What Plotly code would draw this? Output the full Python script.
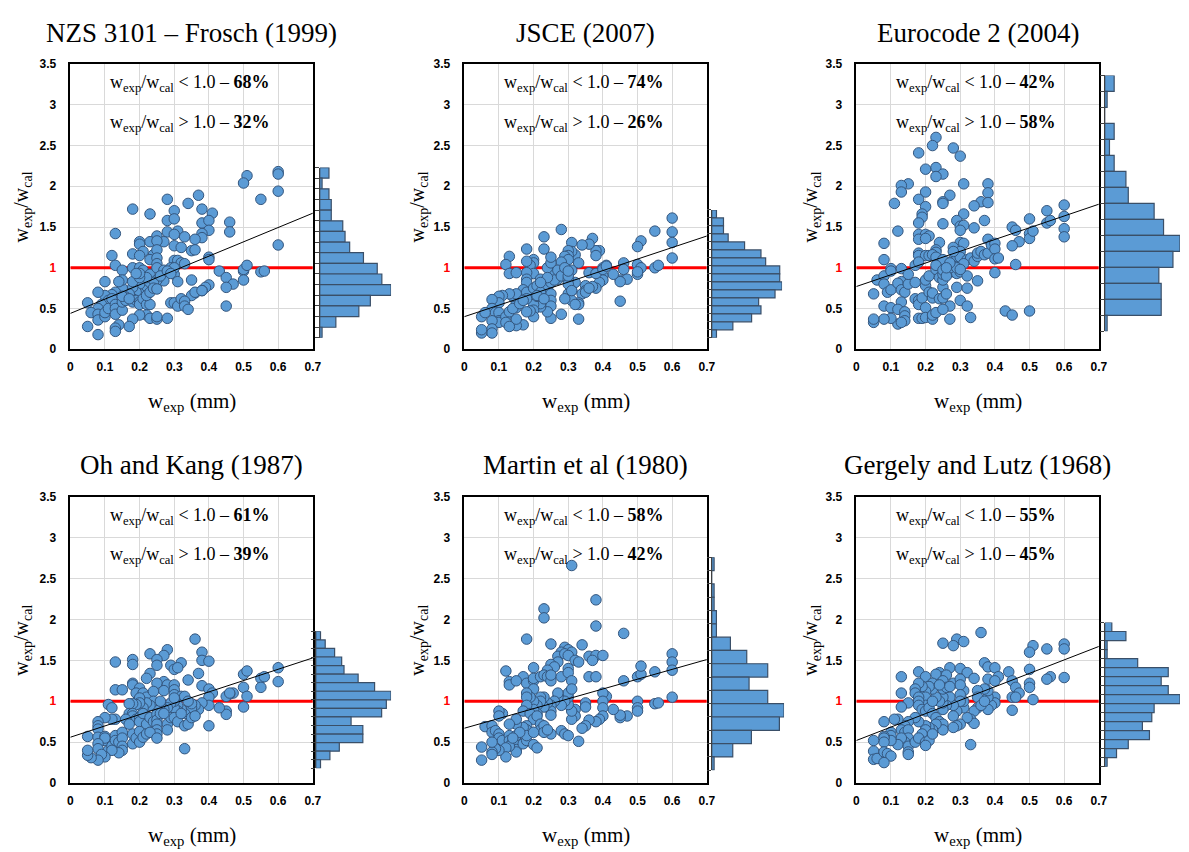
import plotly.graph_objects as go

# ---------------- DATA ----------------
titles = ["NZS 3101 – Frosch (1999)", "JSCE (2007)", "Eurocode 2 (2004)",
          "Oh and Kang (1987)", "Martin et al (1980)", "Gergely and Lutz (1968)"]
pct_below = [68, 74, 42, 61, 58, 55]
pct_above = [32, 26, 58, 39, 42, 45]
ref_level = 1.0
x_ticks = [0, 0.1, 0.2, 0.3, 0.4, 0.5, 0.6, 0.7]
y_ticks = [0, 0.5, 1, 1.5, 2, 2.5, 3, 3.5]
trend_x = [0.0, 0.7]
trend_y0 = [0.44, 0.40, 0.77, 0.56, 0.67, 0.52]
trend_y1 = [1.67, 1.39, 1.78, 1.53, 1.51, 1.67]

nzs_points = [(0.6,2.18),(0.6,2.15),(0.51,2.13),(0.50,2.04),(0.6,1.94),(0.55,1.84),(0.28,1.84),(0.37,1.89),(0.34,1.79),(0.18,1.72),(0.3,1.7),(0.38,1.72),(0.23,1.66),(0.41,1.67),(0.28,1.58),(0.3,1.6),(0.38,1.55),(0.40,1.58),(0.46,1.56),(0.4,1.46),(0.46,1.44),(0.13,1.42),(0.28,1.44),(0.31,1.45),(0.30,1.41),(0.33,1.38),(0.38,1.42),(0.38,1.37),(0.25,1.39),(0.36,1.35),(0.2,1.32),(0.23,1.32),(0.27,1.32),(0.2,1.29),(0.25,1.33),(0.3,1.27),(0.32,1.25),(0.6,1.28),(0.35,1.21),(0.36,1.22),(0.21,1.2),(0.18,1.17),(0.12,1.15),(0.24,1.16),(0.2,1.15),(0.25,1.22),(0.23,1.1),(0.25,1.12),(0.4,1.13),(0.4,1.1),(0.3,1.09),(0.31,1.09),(0.32,1.06),(0.33,1.05),(0.13,1.03),(0.25,1.05),(0.18,1.0),(0.15,0.97),(0.2,1.0),(0.21,0.97),(0.23,0.92),(0.25,1.0),(0.27,0.97),(0.29,1.0),(0.3,0.92),(0.3,1.0),(0.43,0.96),(0.5,0.96),(0.5,0.98),(0.51,1.03),(0.55,0.95),(0.56,0.96),(0.45,0.88),(0.5,0.85),(0.47,0.8),(0.45,0.76),(0.4,0.79),(0.39,0.76),(0.38,0.72),(0.36,0.69),(0.35,0.66),(0.35,0.85),(0.31,0.83),(0.27,0.84),(0.25,0.85),(0.24,0.82),(0.22,0.76),(0.21,0.73),(0.2,0.8),(0.2,0.68),(0.19,0.7),(0.18,0.76),(0.18,0.83),(0.18,0.62),(0.17,0.68),(0.16,0.64),(0.15,0.75),(0.15,0.85),(0.14,0.83),(0.13,0.7),(0.12,0.67),(0.1,0.83),(0.1,0.66),(0.08,0.7),(0.11,0.6),(0.12,0.62),(0.09,0.55),(0.08,0.5),(0.05,0.57),(0.06,0.45),(0.08,0.43),(0.08,0.36),(0.1,0.4),(0.1,0.45),(0.11,0.5),(0.13,0.55),(0.13,0.5),(0.13,0.43),(0.15,0.48),(0.15,0.58),(0.16,0.6),(0.18,0.58),(0.19,0.6),(0.2,0.58),(0.2,0.55),(0.21,0.62),(0.22,0.55),(0.23,0.55),(0.22,0.42),(0.2,0.42),(0.18,0.37),(0.17,0.28),(0.14,0.3),(0.13,0.26),(0.13,0.22),(0.05,0.28),(0.08,0.18),(0.23,0.38),(0.25,0.37),(0.25,0.4),(0.28,0.38),(0.29,0.57),(0.3,0.57),(0.31,0.53),(0.32,0.62),(0.33,0.59),(0.33,0.53),(0.34,0.49),(0.36,0.7),(0.38,0.72),(0.45,0.53),(0.22,0.66),(0.23,0.7),(0.24,0.75),(0.25,0.74),(0.26,0.9),(0.28,0.96),(0.29,0.93),(0.22,0.88),(0.2,0.88),(0.2,0.93),(0.19,0.93),(0.15,0.65),(0.17,0.62)]

jsce_points = [(0.6,1.61),(0.6,1.44),(0.6,1.31),(0.6,1.12),(0.55,1.45),(0.51,1.33),(0.5,1.26),(0.5,1.04),(0.51,1.0),(0.5,0.92),(0.5,0.95),(0.55,1.0),(0.56,1.03),(0.46,1.06),(0.46,0.98),(0.45,0.85),(0.47,0.86),(0.45,0.83),(0.45,0.59),(0.43,0.92),(0.41,1.03),(0.4,1.0),(0.4,0.9),(0.4,0.85),(0.39,0.82),(0.39,1.21),(0.38,1.21),(0.38,1.15),(0.37,1.36),(0.36,1.29),(0.34,1.28),(0.31,1.31),(0.32,1.16),(0.31,1.2),(0.3,1.21),(0.3,1.15),(0.28,1.47),(0.29,1.14),(0.3,1.1),(0.28,1.07),(0.33,1.06),(0.36,0.94),(0.38,0.75),(0.37,0.77),(0.35,0.78),(0.35,0.72),(0.34,0.68),(0.33,0.57),(0.33,0.55),(0.32,0.82),(0.31,0.97),(0.31,0.72),(0.3,0.68),(0.31,0.6),(0.29,0.62),(0.28,0.95),(0.27,0.86),(0.29,0.92),(0.25,0.94),(0.24,1.0),(0.25,1.06),(0.25,1.13),(0.23,1.38),(0.23,1.23),(0.2,1.1),(0.2,1.06),(0.19,1.03),(0.18,1.23),(0.18,1.08),(0.2,0.93),(0.18,0.94),(0.13,1.14),(0.12,1.04),(0.13,0.93),(0.15,0.94),(0.18,0.86),(0.18,0.82),(0.17,0.73),(0.18,0.7),(0.2,0.75),(0.21,0.78),(0.22,0.86),(0.23,0.8),(0.23,0.72),(0.24,0.75),(0.25,0.82),(0.25,0.68),(0.25,0.6),(0.25,0.53),(0.25,0.38),(0.28,0.43),(0.33,0.37),(0.24,0.46),(0.22,0.52),(0.22,0.56),(0.2,0.6),(0.2,0.55),(0.2,0.48),(0.2,0.4),(0.19,0.47),(0.18,0.46),(0.18,0.62),(0.17,0.3),(0.15,0.29),(0.15,0.37),(0.15,0.51),(0.15,0.57),(0.14,0.65),(0.15,0.68),(0.13,0.68),(0.11,0.66),(0.1,0.65),(0.1,0.57),(0.08,0.61),(0.08,0.5),(0.09,0.45),(0.1,0.45),(0.1,0.35),(0.1,0.33),(0.08,0.35),(0.08,0.25),(0.08,0.2),(0.05,0.2),(0.05,0.24),(0.05,0.4),(0.06,0.45),(0.12,0.4),(0.12,0.33),(0.13,0.28),(0.13,0.46),(0.14,0.5),(0.16,0.56),(0.17,0.6),(0.21,0.65),(0.22,0.7),(0.26,0.85),(0.27,0.97),(0.28,0.9),(0.3,0.86),(0.3,0.8),(0.31,0.72),(0.3,0.9),(0.32,0.55),(0.35,0.7),(0.36,0.75),(0.38,0.93),(0.4,0.98),(0.41,1.02),(0.29,1.0),(0.3,0.96),(0.24,0.88),(0.22,0.82),(0.21,0.66),(0.23,0.62)]

ec2_points = [(0.23,2.6),(0.22,2.5),(0.28,2.47),(0.18,2.41),(0.3,2.37),(0.23,2.23),(0.2,2.21),(0.25,2.15),(0.23,2.12),(0.31,2.03),(0.38,2.03),(0.15,2.03),(0.13,2.01),(0.13,1.93),(0.2,1.93),(0.38,1.92),(0.27,1.89),(0.18,1.84),(0.25,1.81),(0.25,1.79),(0.11,1.79),(0.36,1.81),(0.38,1.8),(0.34,1.76),(0.2,1.75),(0.19,1.66),(0.19,1.62),(0.31,1.66),(0.18,1.55),(0.29,1.58),(0.37,1.58),(0.25,1.54),(0.3,1.51),(0.31,1.52),(0.3,1.46),(0.34,1.49),(0.12,1.45),(0.18,1.41),(0.2,1.41),(0.21,1.39),(0.18,1.35),(0.2,1.36),(0.24,1.31),(0.3,1.31),(0.31,1.3),(0.28,1.25),(0.23,1.22),(0.23,1.19),(0.18,1.18),(0.18,1.15),(0.2,1.15),(0.21,1.15),(0.22,1.16),(0.23,1.13),(0.25,1.1),(0.28,1.1),(0.29,1.14),(0.3,1.2),(0.3,1.13),(0.32,1.1),(0.33,1.12),(0.34,1.08),(0.35,1.14),(0.35,1.18),(0.36,1.2),(0.37,1.16),(0.38,1.18),(0.38,1.35),(0.39,1.28),(0.4,1.3),(0.4,1.23),(0.4,1.11),(0.41,1.12),(0.4,0.94),(0.45,1.5),(0.46,1.46),(0.47,1.32),(0.45,1.27),(0.46,1.04),(0.5,1.6),(0.5,1.42),(0.5,1.36),(0.51,1.45),(0.55,1.7),(0.55,1.55),(0.56,1.58),(0.6,1.77),(0.6,1.63),(0.6,1.48),(0.6,1.38),(0.08,1.3),(0.08,1.1),(0.05,0.68),(0.06,0.85),(0.08,0.9),(0.08,0.8),(0.1,0.99),(0.1,0.96),(0.09,0.7),(0.1,0.73),(0.13,0.99),(0.13,0.83),(0.12,0.81),(0.13,0.73),(0.14,0.7),(0.15,0.8),(0.15,0.92),(0.13,0.58),(0.17,1.03),(0.18,1.07),(0.17,0.82),(0.17,0.62),(0.18,0.6),(0.18,0.55),(0.19,0.63),(0.2,0.78),(0.2,0.85),(0.21,0.9),(0.21,0.7),(0.22,0.63),(0.22,0.69),(0.23,0.98),(0.23,1.03),(0.24,0.88),(0.24,0.62),(0.25,0.63),(0.25,0.76),(0.25,0.85),(0.25,0.92),(0.25,0.97),(0.26,0.68),(0.27,0.53),(0.28,0.95),(0.29,0.93),(0.29,0.76),(0.3,0.6),(0.3,0.95),(0.31,1.05),(0.32,0.9),(0.32,0.75),(0.32,0.53),(0.33,0.39),(0.35,0.84),(0.08,0.53),(0.1,0.51),(0.12,0.49),(0.14,0.46),(0.14,0.41),(0.14,0.35),(0.12,0.31),(0.13,0.33),(0.1,0.38),(0.08,0.37),(0.05,0.33),(0.05,0.37),(0.18,0.38),(0.19,0.38),(0.2,0.51),(0.2,0.39),(0.22,0.37),(0.22,0.42),(0.23,0.45),(0.25,0.49),(0.27,0.37),(0.43,0.47),(0.45,0.42),(0.5,0.47),(0.27,1.0),(0.26,0.9),(0.29,1.0),(0.3,0.98),(0.27,1.06),(0.28,1.2),(0.26,1.0)]

ohkang_points = [(0.36,1.76),(0.28,1.63),(0.23,1.58),(0.38,1.6),(0.27,1.56),(0.25,1.51),(0.18,1.51),(0.13,1.48),(0.18,1.45),(0.25,1.44),(0.29,1.44),(0.3,1.39),(0.32,1.47),(0.38,1.5),(0.4,1.49),(0.31,1.41),(0.23,1.34),(0.22,1.28),(0.37,1.34),(0.34,1.26),(0.27,1.24),(0.25,1.22),(0.28,1.2),(0.3,1.2),(0.18,1.22),(0.18,1.2),(0.2,1.16),(0.19,1.1),(0.13,1.14),(0.15,1.14),(0.21,1.1),(0.22,1.05),(0.24,1.12),(0.27,1.13),(0.3,1.14),(0.3,1.08),(0.32,1.06),(0.33,1.06),(0.38,1.19),(0.4,1.15),(0.41,1.1),(0.4,1.05),(0.5,1.33),(0.51,1.37),(0.55,1.28),(0.56,1.3),(0.6,1.41),(0.6,1.24),(0.55,1.17),(0.5,1.17),(0.51,1.06),(0.5,0.93),(0.47,1.1),(0.46,1.09),(0.45,1.06),(0.46,1.1),(0.45,0.88),(0.45,0.84),(0.43,0.92),(0.4,0.95),(0.4,0.7),(0.38,0.98),(0.37,0.9),(0.36,0.95),(0.35,0.92),(0.35,0.97),(0.34,1.0),(0.33,0.85),(0.32,0.9),(0.31,0.95),(0.31,0.88),(0.3,0.92),(0.3,1.0),(0.29,0.98),(0.28,0.92),(0.27,0.9),(0.26,0.96),(0.25,0.98),(0.25,0.92),(0.24,1.0),(0.23,0.95),(0.22,0.98),(0.21,0.92),(0.2,1.04),(0.2,0.98),(0.19,0.96),(0.18,0.97),(0.17,0.97),(0.11,0.96),(0.12,0.92),(0.17,0.85),(0.18,0.85),(0.18,0.82),(0.19,0.78),(0.2,0.8),(0.2,0.75),(0.21,0.85),(0.22,0.72),(0.23,0.8),(0.24,0.75),(0.25,0.84),(0.25,0.77),(0.25,0.72),(0.25,0.65),(0.25,0.6),(0.26,0.85),(0.28,0.72),(0.28,0.65),(0.29,0.8),(0.3,0.8),(0.31,0.75),(0.32,0.85),(0.33,0.7),(0.34,0.72),(0.35,0.8),(0.36,0.82),(0.33,0.42),(0.13,0.78),(0.12,0.78),(0.1,0.8),(0.08,0.75),(0.08,0.7),(0.08,0.66),(0.05,0.57),(0.08,0.56),(0.1,0.57),(0.1,0.52),(0.1,0.55),(0.08,0.48),(0.08,0.42),(0.11,0.4),(0.12,0.45),(0.13,0.58),(0.13,0.52),(0.14,0.5),(0.15,0.62),(0.15,0.55),(0.15,0.45),(0.15,0.4),(0.14,0.37),(0.12,0.4),(0.1,0.32),(0.09,0.35),(0.08,0.28),(0.06,0.31),(0.05,0.34),(0.05,0.4),(0.18,0.6),(0.18,0.48),(0.19,0.55),(0.2,0.5),(0.2,0.63),(0.21,0.56),(0.22,0.6),(0.23,0.62),(0.25,0.55),(0.16,0.78),(0.17,0.72),(0.26,1.0),(0.27,0.85),(0.3,1.04)]

martin_points = [(0.31,2.66),(0.38,2.24),(0.23,2.13),(0.23,2.02),(0.38,1.92),(0.46,1.83),(0.18,1.76),(0.25,1.7),(0.34,1.69),(0.29,1.66),(0.3,1.63),(0.31,1.6),(0.28,1.6),(0.27,1.55),(0.29,1.58),(0.3,1.56),(0.36,1.55),(0.38,1.56),(0.4,1.56),(0.37,1.5),(0.32,1.5),(0.33,1.48),(0.27,1.48),(0.25,1.45),(0.26,1.42),(0.3,1.4),(0.24,1.38),(0.2,1.41),(0.12,1.37),(0.17,1.3),(0.13,1.24),(0.13,1.2),(0.15,1.25),(0.18,1.22),(0.2,1.25),(0.2,1.28),(0.22,1.3),(0.23,1.32),(0.24,1.3),(0.25,1.25),(0.25,1.32),(0.28,1.3),(0.3,1.35),(0.31,1.25),(0.36,1.3),(0.38,1.3),(0.46,1.25),(0.5,1.3),(0.51,1.33),(0.51,1.43),(0.55,1.36),(0.6,1.58),(0.6,1.48),(0.6,1.38),(0.6,1.05),(0.55,0.97),(0.56,0.98),(0.5,1.0),(0.5,0.92),(0.5,0.88),(0.47,0.82),(0.45,0.8),(0.45,0.83),(0.43,0.9),(0.41,1.06),(0.4,1.1),(0.4,1.0),(0.4,0.92),(0.4,0.82),(0.39,0.78),(0.38,0.75),(0.36,0.77),(0.35,0.98),(0.35,0.93),(0.35,0.7),(0.34,0.67),(0.33,0.51),(0.32,0.9),(0.32,0.82),(0.31,0.78),(0.31,0.88),(0.3,0.96),(0.3,1.05),(0.3,1.1),(0.31,1.15),(0.29,1.0),(0.28,0.95),(0.27,1.05),(0.27,1.1),(0.26,1.0),(0.25,0.95),(0.25,0.88),(0.25,0.83),(0.25,0.6),(0.24,0.98),(0.23,1.05),(0.23,0.93),(0.22,1.05),(0.22,1.0),(0.21,0.95),(0.21,0.85),(0.2,1.0),(0.2,0.9),(0.2,1.15),(0.19,1.05),(0.18,1.1),(0.18,1.05),(0.18,0.95),(0.17,0.88),(0.19,0.85),(0.2,0.78),(0.21,0.82),(0.22,0.72),(0.22,0.65),(0.23,0.7),(0.23,0.62),(0.24,0.65),(0.28,0.64),(0.29,0.6),(0.3,0.58),(0.18,0.7),(0.18,0.65),(0.17,0.68),(0.15,0.72),(0.15,0.78),(0.13,0.72),(0.11,0.85),(0.1,0.88),(0.1,0.82),(0.06,0.69),(0.08,0.7),(0.08,0.62),(0.09,0.64),(0.1,0.6),(0.1,0.55),(0.11,0.52),(0.13,0.58),(0.13,0.52),(0.14,0.5),(0.15,0.46),(0.15,0.41),(0.15,0.38),(0.13,0.45),(0.12,0.43),(0.12,0.32),(0.1,0.4),(0.09,0.42),(0.08,0.38),(0.08,0.35),(0.08,0.5),(0.05,0.44),(0.05,0.28),(0.15,0.58),(0.17,0.48),(0.18,0.52),(0.18,0.58),(0.2,0.47),(0.21,0.43),(0.2,0.62),(0.16,0.62),(0.14,0.55)]

gergely_points = [(0.36,1.84),(0.29,1.76),(0.31,1.73),(0.25,1.71),(0.28,1.68),(0.51,1.68),(0.6,1.7),(0.6,1.64),(0.55,1.64),(0.5,1.6),(0.37,1.47),(0.38,1.42),(0.4,1.41),(0.27,1.41),(0.3,1.4),(0.5,1.39),(0.44,1.36),(0.32,1.35),(0.24,1.35),(0.18,1.36),(0.25,1.3),(0.23,1.33),(0.2,1.3),(0.13,1.3),(0.26,1.32),(0.28,1.22),(0.3,1.27),(0.34,1.28),(0.38,1.27),(0.41,1.3),(0.4,1.25),(0.45,1.25),(0.56,1.3),(0.55,1.27),(0.6,1.29),(0.5,1.22),(0.5,1.17),(0.46,1.17),(0.47,1.1),(0.45,1.05),(0.46,1.05),(0.51,1.02),(0.45,0.89),(0.4,1.05),(0.4,0.98),(0.39,0.95),(0.38,0.9),(0.38,1.05),(0.38,1.13),(0.37,1.15),(0.35,1.13),(0.35,1.05),(0.35,0.92),(0.34,0.88),(0.33,0.78),(0.34,0.73),(0.32,0.8),(0.31,0.92),(0.31,1.0),(0.31,1.13),(0.3,1.2),(0.3,1.08),(0.3,1.0),(0.29,0.88),(0.28,0.95),(0.28,0.82),(0.3,0.72),(0.29,0.7),(0.28,0.68),(0.27,1.05),(0.26,0.95),(0.25,0.9),(0.25,0.98),(0.25,1.05),(0.25,1.15),(0.25,1.25),(0.24,1.0),(0.23,1.05),(0.22,1.15),(0.22,1.22),(0.21,1.18),(0.2,1.12),(0.2,1.05),(0.2,0.95),(0.19,1.18),(0.18,1.22),(0.17,1.15),(0.17,1.1),(0.18,1.05),(0.18,1.0),(0.18,0.95),(0.19,0.9),(0.2,0.88),(0.21,0.92),(0.22,0.85),(0.23,0.8),(0.24,0.75),(0.25,0.72),(0.25,0.65),(0.23,0.72),(0.22,0.65),(0.21,0.68),(0.2,0.7),(0.2,0.65),(0.19,0.6),(0.18,0.75),(0.17,0.8),(0.15,0.98),(0.13,0.93),(0.13,1.1),(0.15,0.75),(0.14,0.7),(0.12,0.78),(0.11,0.78),(0.08,0.75),(0.13,0.65),(0.14,0.62),(0.15,0.65),(0.15,0.55),(0.14,0.5),(0.13,0.55),(0.12,0.47),(0.15,0.45),(0.15,0.38),(0.15,0.35),(0.1,0.62),(0.1,0.58),(0.1,0.52),(0.08,0.57),(0.08,0.55),(0.08,0.5),(0.05,0.52),(0.05,0.39),(0.05,0.29),(0.06,0.3),(0.08,0.38),(0.09,0.36),(0.1,0.33),(0.08,0.25),(0.17,0.5),(0.18,0.55),(0.2,0.5),(0.21,0.52),(0.2,0.46),(0.22,0.6),(0.33,0.47),(0.36,0.95),(0.37,1.0),(0.26,1.17),(0.24,1.2),(0.27,1.18),(0.22,1.0)]

# histogram bins (bottom edge, top edge, counts listed from top bin to bottom bin)
hist_lo = [0.14, 0.14, 0.22, 0.18, 0.157, 0.20]
hist_hi = [2.23, 1.71, 3.36, 1.855, 2.76, 1.963]
nzs_hist = [4, 1, 4, 5, 5, 10, 11, 13, 19, 25, 27, 31, 22, 17, 7, 1]
jsce_hist = [2, 5, 5, 7, 14, 21, 23, 29, 29, 30, 27, 20, 21, 17, 9, 2]
ec2_hist = [4, 1, 0, 4, 2, 4, 9, 10, 21, 25, 32, 29, 23, 24, 24, 1]
ohkang_hist = [2, 4, 8, 11, 12, 18, 25, 32, 30, 28, 15, 20, 20, 10, 6, 2]
martin_hist = [1, 0, 1, 1, 2, 2, 8, 15, 24, 16, 24, 31, 29, 17, 9, 1]
gergely_hist = [3, 9, 1, 1, 14, 27, 24, 27, 32, 21, 20, 16, 19, 10, 5, 1]

all_points = [nzs_points, jsce_points, ec2_points, ohkang_points, martin_points, gergely_points]
all_hist = [nzs_hist, jsce_hist, ec2_hist, ohkang_hist, martin_hist, gergely_hist]

# ---------------- LAYOUT GEOMETRY (pixels) ----------------
W, H = 1189, 852
scatter_px = [(68, 313, 58, 348), (466, 711, 58, 348), (862, 1107, 58, 348),
              (68, 313, 498, 789), (466, 711, 498, 789), (862, 1107, 498, 789)]
hist_px = [(320, 392), (716, 787), (1113, 1189), (316, 392), (716, 789), (1113, 1189)]
ylabel_x = [20, 420, 817, 20, 420, 817]


def fx(p):
    return p / W


def fy(p):
    return 1 - p / H


BLUE = "#5B9BD5"
EDGE = "#34567E"
BAR_EDGE = "#3A4F68"
SERIF = "Liberation Serif"
SANS = "Liberation Sans"

fig = go.Figure()
layout = {}
annotations = []

for i in range(6):
    sx, hx = 2 * i + 1, 2 * i + 2
    xl, xr, yt, yb = scatter_px[i]
    d0, d1 = fy(yb), fy(yt)
    pts = all_points[i]
    xs = [p[0] for p in pts]
    ys = [p[1] for p in pts]

    ticktext_y = []
    for v in y_ticks:
        s = f"{v:g}"
        if v == 1:
            s = "<span style='color:#FF0000'>1</span>"
        ticktext_y.append(s)
    layout[f"xaxis{sx}"] = dict(
        domain=[fx(xl), fx(xr)], range=[0, 0.7], anchor=f"y{sx}",
        tickvals=x_ticks, ticktext=[f"{v:g}" for v in x_ticks],
        showgrid=True, gridcolor="#D9D9D9", gridwidth=1, zeroline=False,
        showline=True, mirror=True, linecolor="black", linewidth=1.5,
        ticks="", tickfont=dict(family=SANS, size=12, color="black", weight="bold"),
        ticklabelstandoff=6,
    )
    layout[f"yaxis{sx}"] = dict(
        domain=[d0, d1], range=[0, 3.5], anchor=f"x{sx}",
        tickvals=y_ticks, ticktext=ticktext_y,
        showgrid=True, gridcolor="#D9D9D9", gridwidth=1, zeroline=False,
        showline=True, mirror=True, linecolor="black", linewidth=1.5,
        ticks="", tickfont=dict(family=SANS, size=12, color="black", weight="bold"),
        ticklabelstandoff=10,
    )

    fig.add_trace(go.Scatter(x=trend_x, y=[ref_level, ref_level], mode="lines",
                             line=dict(color="#FF0000", width=3),
                             xaxis=f"x{sx}", yaxis=f"y{sx}", showlegend=False, hoverinfo="skip"))
    fig.add_trace(go.Scatter(x=xs, y=ys, mode="markers",
                             marker=dict(color=BLUE, size=10.5, line=dict(color=EDGE, width=1)),
                             xaxis=f"x{sx}", yaxis=f"y{sx}", showlegend=False))
    fig.add_trace(go.Scatter(x=trend_x, y=[trend_y0[i], trend_y1[i]], mode="lines",
                             line=dict(color="black", width=1),
                             xaxis=f"x{sx}", yaxis=f"y{sx}", showlegend=False, hoverinfo="skip"))

    lo, hi = hist_lo[i], hist_hi[i]
    counts = all_hist[i]
    n = len(counts)
    bw = (hi - lo) / n
    centers = [hi - bw * (k + 0.5) for k in range(n)]
    edges = [lo + bw * k for k in range(n + 1)]
    hl, hr = hist_px[i]
    hd0 = d0 + (lo / 3.5) * (d1 - d0)
    hd1 = d0 + (hi / 3.5) * (d1 - d0)
    layout[f"xaxis{hx}"] = dict(domain=[fx(hl), fx(hr)], range=[0, max(counts)],
                                anchor=f"y{hx}", visible=False)
    layout[f"yaxis{hx}"] = dict(domain=[hd0, hd1], range=[lo, hi], anchor=f"x{hx}",
                                tickvals=edges, ticks="outside", ticklen=4, tickcolor="#404040",
                                showticklabels=False, showgrid=False, zeroline=False,
                                showline=True, linecolor="#404040", linewidth=1)
    fig.add_trace(go.Bar(y=centers, x=counts, orientation="h", width=bw,
                         marker=dict(color=BLUE, line=dict(color=BAR_EDGE, width=1.2)),
                         xaxis=f"x{hx}", yaxis=f"y{hx}", showlegend=False))

    cx = (xl + xr) / 2
    annotations.append(dict(text=titles[i], x=fx(cx), y=fy(yt - 32), xref="paper", yref="paper",
                            showarrow=False, font=dict(family=SERIF, size=27, color="black"),
                            xanchor="center", yanchor="middle"))
    annotations.append(dict(text="w<sub>exp</sub> (mm)", x=fx(cx), y=fy(yb + 54), xref="paper",
                            yref="paper", showarrow=False,
                            font=dict(family=SERIF, size=21, color="black"),
                            xanchor="center", yanchor="middle"))
    annotations.append(dict(text="w<sub>exp</sub>/w<sub>cal</sub>", x=fx(ylabel_x[i]),
                            y=fy((yt + yb) / 2), xref="paper", yref="paper", showarrow=False,
                            textangle=-90, font=dict(family=SERIF, size=20, color="black"),
                            xanchor="center", yanchor="middle"))
    tx = cx - 2
    annotations.append(dict(text=f"w<sub>exp</sub>/w<sub>cal</sub> &lt; 1.0 – <b>{pct_below[i]}%</b>",
                            x=fx(tx), y=fy(yt + 20), xref="paper", yref="paper", showarrow=False,
                            font=dict(family=SERIF, size=18, color="black"),
                            xanchor="center", yanchor="middle"))
    annotations.append(dict(text=f"w<sub>exp</sub>/w<sub>cal</sub> &gt; 1.0 – <b>{pct_above[i]}%</b>",
                            x=fx(tx), y=fy(yt + 60), xref="paper", yref="paper", showarrow=False,
                            font=dict(family=SERIF, size=18, color="black"),
                            xanchor="center", yanchor="middle"))

fig.update_layout(
    width=W, height=H, margin=dict(l=0, r=0, t=0, b=0),
    paper_bgcolor="white", plot_bgcolor="white",
    annotations=annotations, **layout,
)

fig.write_html("out.html", config={"displayModeBar": False},
               post_script="document.body.style.margin='0';document.body.style.overflow='hidden';")
